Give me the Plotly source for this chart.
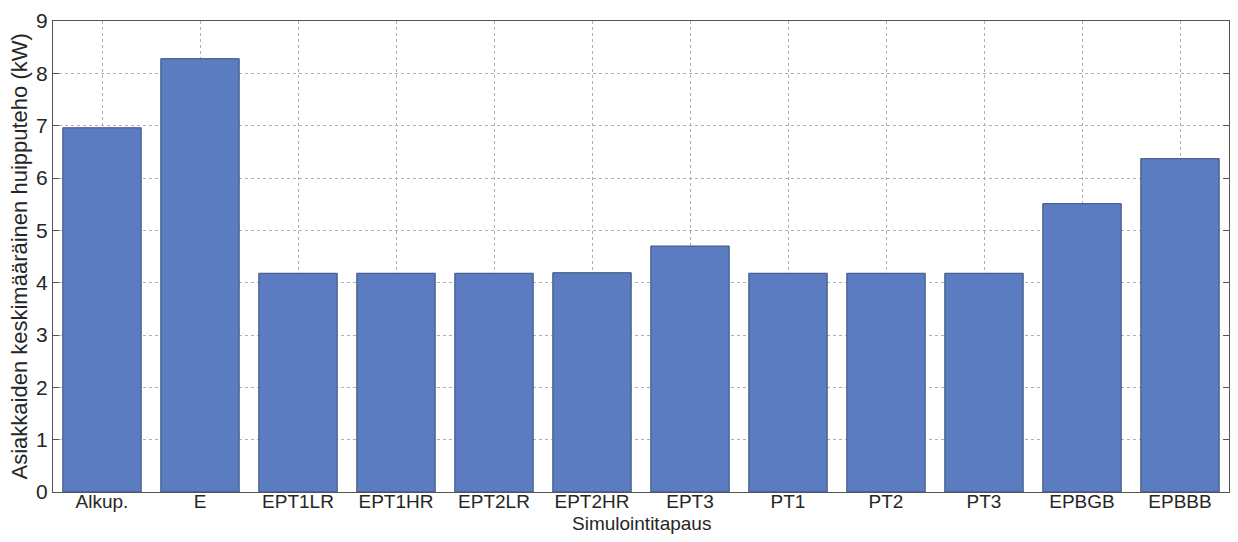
import plotly.graph_objects as go

categories = ["Alkup.", "E", "EPT1LR", "EPT1HR", "EPT2LR", "EPT2HR", "EPT3",
              "PT1", "PT2", "PT3", "EPBGB", "EPBBB"]
values = [6.96, 8.28, 4.18, 4.18, 4.18, 4.19, 4.70, 4.18, 4.18, 4.18, 5.51, 6.37]
y_ticks = [0, 1, 2, 3, 4, 5, 6, 7, 8, 9]
x_title = "Simulointitapaus"
y_title = "Asiakkaiden keskimääräinen huipputeho (kW)"

fam = "Liberation Sans, Arial, sans-serif"
col = "#262626"

fig = go.Figure(go.Bar(
    x=categories, y=values, width=0.8,
    marker=dict(color="#5b7cc0", line=dict(color="#3c4f7e", width=1)),
))

# page body has an 8px margin, so the figure is sized/margined to compensate
fig.update_layout(
    width=1222, height=526,
    margin=dict(l=45, r=1, t=13, b=42),
    paper_bgcolor="white", plot_bgcolor="white",
    font=dict(family=fam, size=20, color=col), showlegend=False,
    annotations=[
        dict(text=x_title, xref="paper", yref="paper", x=0.5, y=0, yshift=-31,
             xanchor="center", yanchor="middle", showarrow=False, borderpad=0,
             font=dict(family=fam, size=19, color=col)),
        dict(text=y_title, xref="paper", yref="paper", x=0, y=0.5, xshift=-34,
             xanchor="center", yanchor="middle", textangle=-90, showarrow=False,
             font=dict(family=fam, size=22, color=col)),
    ],
)
fig.update_xaxes(
    range=[-0.5, 11.5], showline=True, linecolor="#555555", linewidth=1, mirror=True,
    showgrid=True, gridcolor="#b0b0b0", griddash="dot", gridwidth=1,
    ticks="", automargin=False, ticklabelstandoff=-8,
    tickfont=dict(family=fam, size=19, color=col),
)
fig.update_yaxes(
    range=[0, 9], tickvals=y_ticks, showline=True, linecolor="#555555", linewidth=1, mirror="ticks",
    showgrid=True, gridcolor="#b0b0b0", griddash="dot", gridwidth=1,
    ticks="inside", ticklen=6, tickcolor="#555555", automargin=False,
    tickfont=dict(family=fam, size=21, color=col),
    zeroline=False,
)
fig.write_html("out.html")
